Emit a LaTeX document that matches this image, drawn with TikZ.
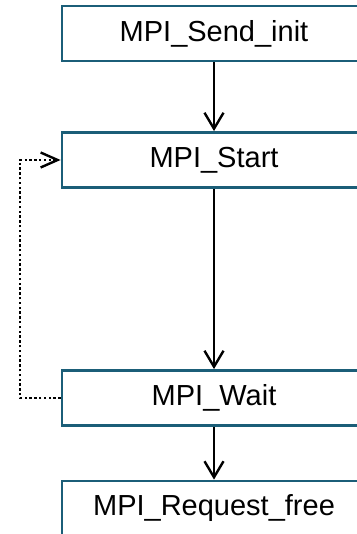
\documentclass[tikz,border=0pt]{standalone}
\usepackage{fontspec}
\setmainfont{Liberation Sans}
\usetikzlibrary{arrows.meta}
\definecolor{boxline}{HTML}{1B5E78}
\tikzset{
  x=1pt, y=1pt,
  callbox/.style={draw=boxline, line width=2.8pt, fill=white,
    minimum width=304pt, minimum height=55pt, inner sep=0pt,
    font=\fontsize{29}{34}\selectfont},
  flow/.style={line width=2.4pt, -{Straight Barb[length=16pt, width=19pt, line width=2.4pt]}},
  loop/.style={line width=2.6pt, dash pattern=on 2.4pt off 2.4pt,
    -{Straight Barb[length=17pt, width=15pt, line width=2.4pt]}}
}
\begin{document}
\begin{tikzpicture}
  \useasboundingbox (0,0) rectangle (356,534);
  % call sequence of a persistent send request
  \node[callbox] (init)  at (214,500.5) {MPI\_Send\_init};
  \node[callbox] (start) at (214,374)   {MPI\_Start};
  \node[callbox] (wait)  at (214,136)   {MPI\_Wait};
  \node[callbox] (free)  at (214,25.5)  {MPI\_Request\_free};
  \coordinate (back) at (20,0);
  \draw[flow] (init.south) -- (start.north);
  \draw[flow] (start.south) -- (wait.north);
  \draw[flow] (wait.south) -- (free.north);
  % return path for restarting the request
  \draw[loop] (wait.west) -| (back |- start.west) -- (start.west);
\end{tikzpicture}
\end{document}
